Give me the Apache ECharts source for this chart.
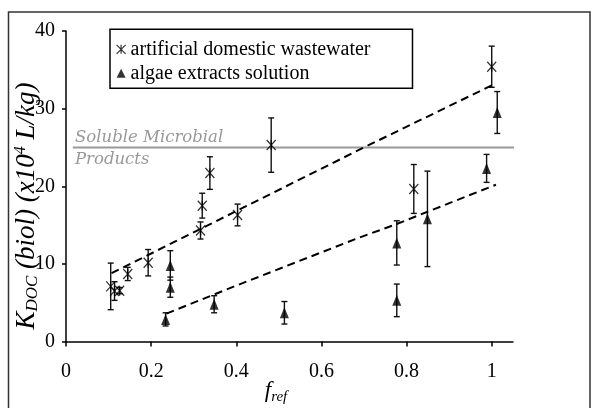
<!DOCTYPE html>
<html>
<head>
<meta charset="utf-8">
<script src="https://cdn.jsdelivr.net/npm/echarts@6/dist/echarts.min.js"></script>
<style>
  html, body { margin: 0; padding: 0; background: #fff; }
  #chart { width: 594px; height: 408px; }
</style>
</head>
<body>
<div id="chart"></div>
<script>
// artificial domestic wastewater (x markers)
var ADW_X   = [0.105, 0.114, 0.126, 0.145, 0.193, 0.316, 0.320, 0.338, 0.403, 0.482, 0.817, 1.000];
var ADW_Y   = [7.1, 6.5, 6.55, 8.7, 10.15, 14.3, 17.5, 21.7, 16.3, 25.3, 19.65, 35.4];
var ADW_ERR = [3.0, 1.2, 0.4, 0.85, 1.7, 1.1, 1.6, 2.1, 1.4, 3.5, 3.15, 2.65];

// algae extracts solution (triangles)
var ALG_X   = [0.234, 0.245, 0.245, 0.348, 0.513, 0.777, 0.777, 0.849, 0.988, 1.013];
var ALG_Y   = [2.85, 9.8, 7.0, 4.8, 3.7, 12.7, 5.3, 15.8, 22.3, 29.5];
var ALG_ERR = [0.85, 1.9, 1.3, 1.1, 1.45, 2.85, 2.1, 6.15, 1.8, 2.7];

// dashed fitted lines
var FIT_A_X = [0.107, 0.4, 0.7, 1.0];
var FIT_A_Y = [8.8, 16.8, 25.0, 33.0];
var FIT_B_X = [0.236, 0.4, 0.68, 0.775, 1.01];
var FIT_B_Y = [3.6, 7.2, 13.2, 15.1, 20.2];

// soluble microbial products level
var SMP_X = [0.016, 1.055];
var SMP_Y = [25, 25];

var X_TICKS = [0, 0.2, 0.4, 0.6, 0.8, 1];

var NAME_A = 'artificial domestic wastewater';
var NAME_B = 'algae extracts solution';
var STAR = 'path://M0,0L10,10M10,0L0,10M5,0L5,10';
var SERIF = 'Liberation Serif';

var chart = echarts.init(document.getElementById('chart'));

function zip(xs, ys, es) {
  return xs.map(function (x, i) { return es ? [x, ys[i], es[i]] : [x, ys[i]]; });
}

// vertical error bar with caps
function errBar(params, api) {
  var x = api.value(0), y = api.value(1), e = api.value(2);
  var top = api.coord([x, y + e]);
  var bot = api.coord([x, y - e]);
  var w = 3;
  var st = { stroke: '#111', lineWidth: 1.4 };
  return {
    type: 'group',
    children: [
      { type: 'line', shape: { x1: top[0], y1: top[1], x2: bot[0], y2: bot[1] }, style: st },
      { type: 'line', shape: { x1: top[0] - w, y1: top[1], x2: top[0] + w, y2: top[1] }, style: st },
      { type: 'line', shape: { x1: bot[0] - w, y1: bot[1], x2: bot[0] + w, y2: bot[1] }, style: st }
    ]
  };
}

var option = {
  backgroundColor: '#fff',
  animation: false,
  grid: { left: 66, right: 81, top: 31, bottom: 66.5 },
  legend: {
    left: 110, top: 29.3,
    orient: 'vertical',
    padding: [10, 42, 5, 6],
    itemGap: 4,
    itemWidth: 9, itemHeight: 9,
    borderColor: '#000', borderWidth: 1.5,
    backgroundColor: '#fff',
    selectedMode: false,
    textStyle: { fontFamily: SERIF, fontSize: 20, color: '#000' },
    data: [
      { name: NAME_A, icon: STAR, itemStyle: { color: 'transparent', borderColor: '#000', borderWidth: 1.2 } },
      { name: NAME_B, icon: 'triangle', itemStyle: { color: '#000' } }
    ]
  },
  xAxis: {
    type: 'value',
    min: 0, max: 1.05,
    splitLine: { show: false },
    axisLine: { lineStyle: { color: '#000', width: 1.5 } },
    axisTick: { customValues: X_TICKS, length: 5, lineStyle: { color: '#000', width: 1.5 } },
    axisLabel: { customValues: X_TICKS, margin: 20, fontFamily: SERIF, fontSize: 20, color: '#000' }
  },
  yAxis: {
    type: 'value',
    min: 0, max: 40, interval: 10,
    splitLine: { show: false },
    axisLine: { lineStyle: { color: '#000', width: 1.5 } },
    axisTick: { length: 4, lineStyle: { color: '#000', width: 1.5 } },
    axisLabel: { margin: 11, fontFamily: SERIF, fontSize: 20, color: '#000' }
  },
  graphic: [
    { type: 'polyline', shape: { points: [[8.5, 420], [8.5, 12], [590, 12], [590, 420]] },
      style: { stroke: '#333', lineWidth: 1.5, fill: null } },
    { type: 'text', x: 75, y: 137.5,
      style: { text: 'Soluble Microbial', fontFamily: 'DejaVu Serif', fontStyle: 'italic', fontSize: 16.5,
               fill: '#999', verticalAlign: 'middle' } },
    { type: 'text', x: 75, y: 160,
      style: { text: 'Products', fontFamily: 'DejaVu Serif', fontStyle: 'italic', fontSize: 16.5,
               fill: '#999', verticalAlign: 'middle' } },
    { type: 'text', x: 27, y: 206, rotation: Math.PI / 2,
      style: {
        text: '{a|K}{b|DOC}{a| (biol) (x10}{c|4}{a| L/kg)}',
        fill: '#000', align: 'center', verticalAlign: 'middle',
        rich: {
          a: { fontFamily: SERIF, fontStyle: 'italic', fontSize: 27, fill: '#000' },
          b: { fontFamily: SERIF, fontStyle: 'italic', fontSize: 17, fill: '#000', padding: [12, 0, 0, 0] },
          c: { fontFamily: SERIF, fontStyle: 'italic', fontSize: 16, fill: '#000', padding: [0, 0, 12, 0] }
        }
      } },
    { type: 'text', x: 276, y: 391,
      style: {
        text: '{a|f}{b|ref}',
        fill: '#000', align: 'center', verticalAlign: 'middle',
        rich: {
          a: { fontFamily: SERIF, fontStyle: 'italic', fontSize: 23, fill: '#000' },
          b: { fontFamily: SERIF, fontStyle: 'italic', fontSize: 15, fill: '#000', padding: [12, 0, 0, 0] }
        }
      } }
  ],
  series: [
    {
      name: 'SMP', type: 'line', data: zip(SMP_X, SMP_Y), clip: false,
      showSymbol: false, silent: true, z: 1,
      lineStyle: { color: '#999', width: 2 }
    },
    {
      name: 'errA', type: 'custom', renderItem: errBar, data: zip(ADW_X, ADW_Y, ADW_ERR),
      encode: { x: 0, y: 1 }, silent: true, z: 2
    },
    {
      name: 'errB', type: 'custom', renderItem: errBar, data: zip(ALG_X, ALG_Y, ALG_ERR),
      encode: { x: 0, y: 1 }, silent: true, z: 2
    },
    {
      name: 'fitA', type: 'line', data: zip(FIT_A_X, FIT_A_Y), showSymbol: false, silent: true, z: 3,
      lineStyle: { color: '#000', width: 2, type: [8, 5] }
    },
    {
      name: 'fitB', type: 'line', data: zip(FIT_B_X, FIT_B_Y), showSymbol: false, silent: true, z: 3,
      lineStyle: { color: '#000', width: 2, type: [8, 5] }
    },
    {
      name: NAME_A, type: 'scatter', data: zip(ADW_X, ADW_Y), z: 4,
      symbol: STAR, symbolSize: [9, 10],
      itemStyle: { color: 'transparent', borderColor: '#000', borderWidth: 1.3 }
    },
    {
      name: NAME_B, type: 'scatter', data: zip(ALG_X, ALG_Y), z: 4,
      symbol: 'triangle', symbolSize: [9, 11],
      itemStyle: { color: '#000' }
    }
  ]
};

chart.setOption(option);
</script>
</body>
</html>
